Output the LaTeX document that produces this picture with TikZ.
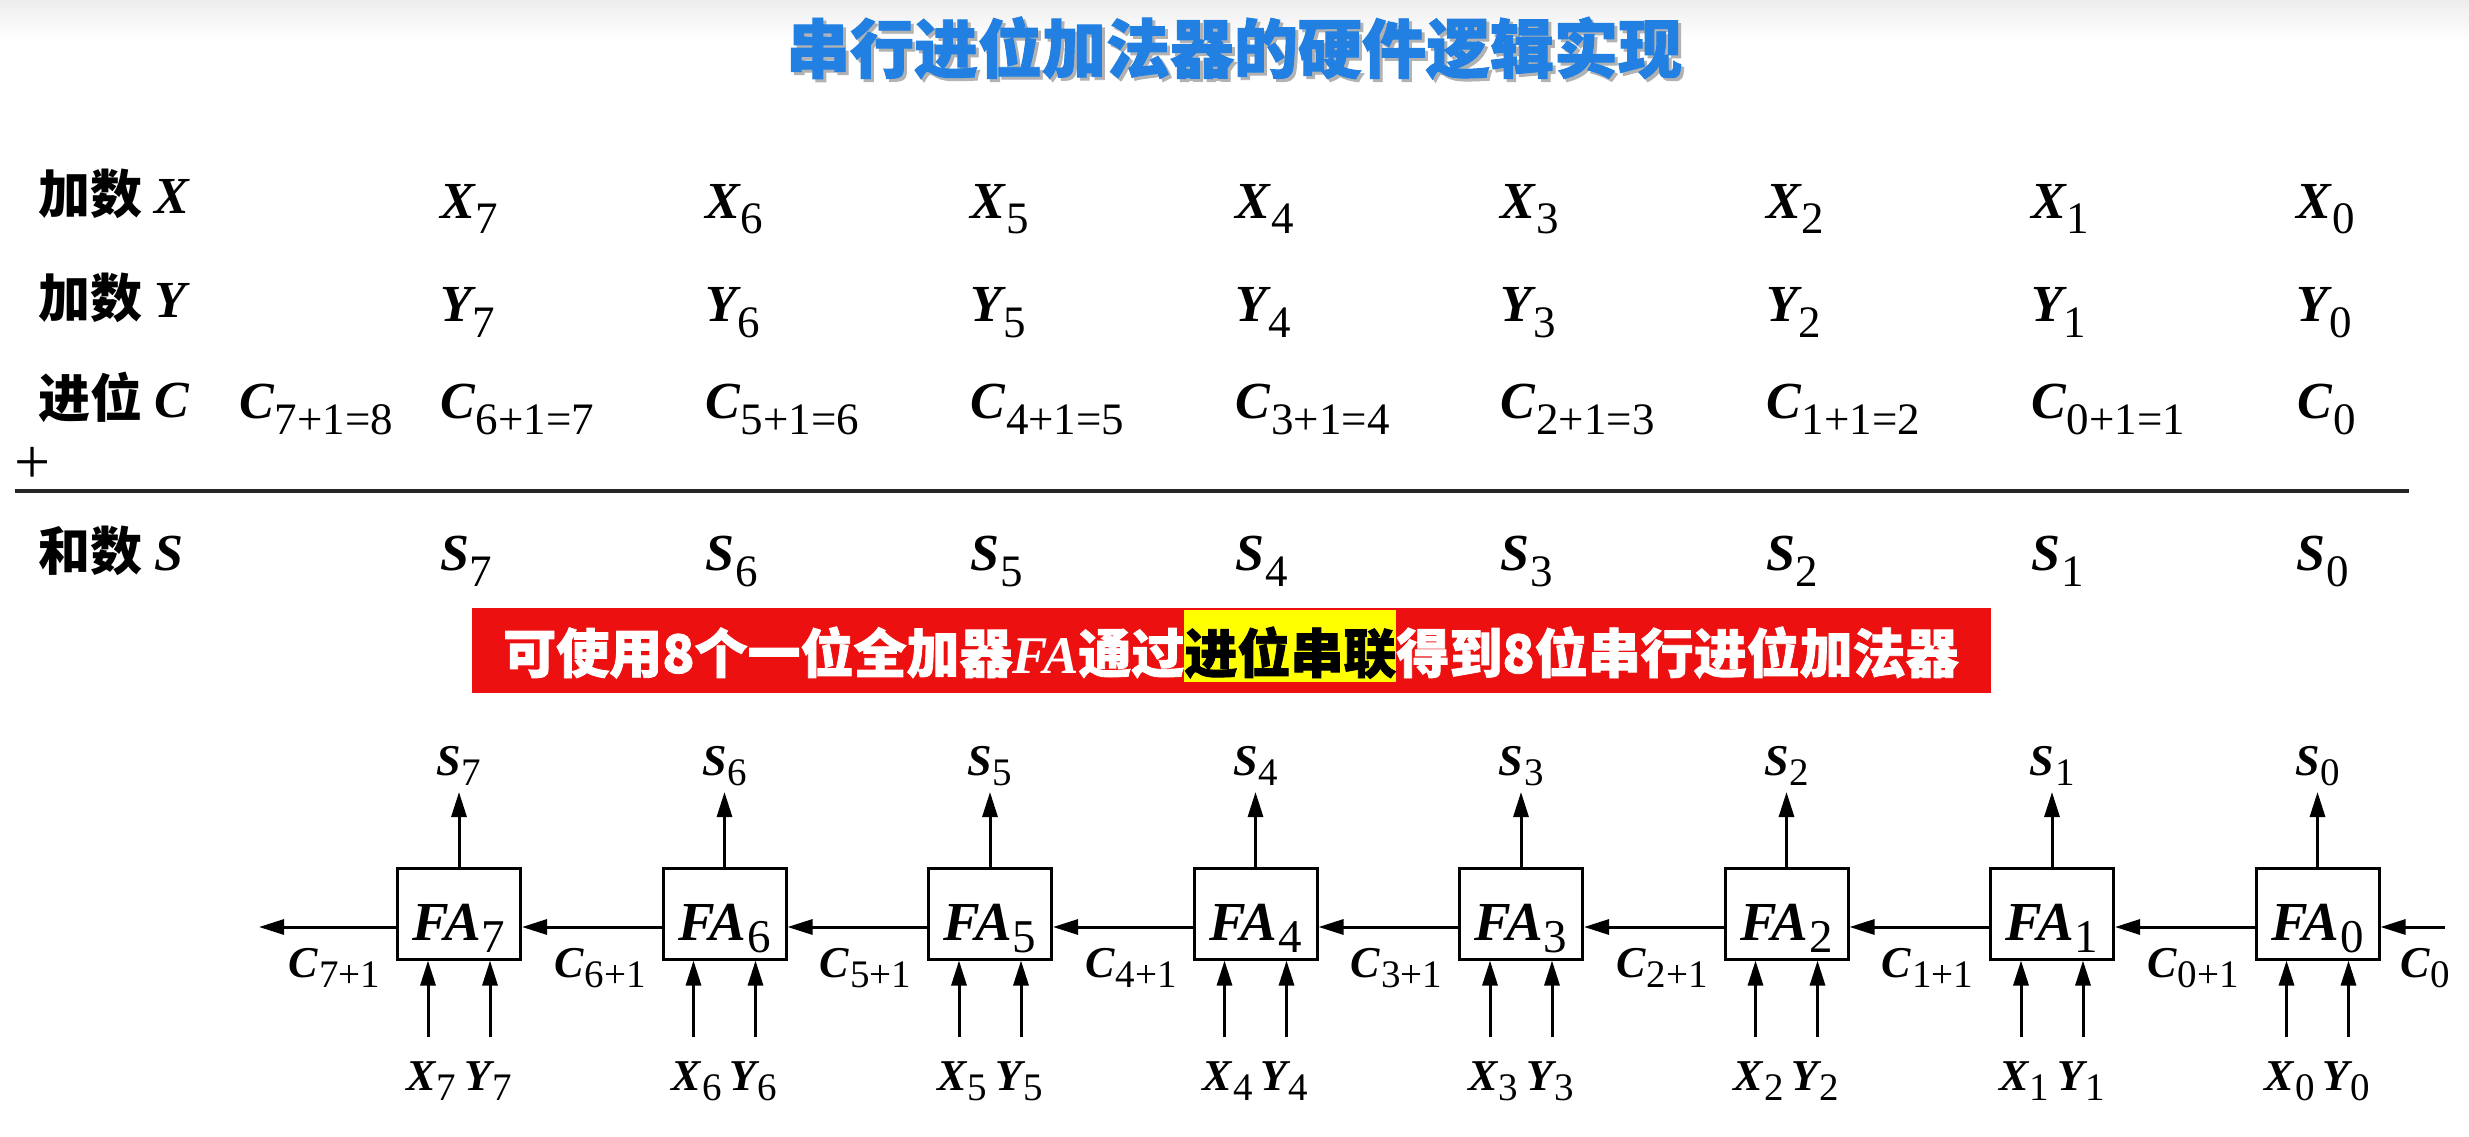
\documentclass[tikz,border=0pt]{standalone}
\usepackage{fontspec}
\setmainfont{Liberation Serif}
\newfontfamily\cjk{Noto Sans CJK SC}
\newfontfamily\cjkheavy{Noto Sans CJK SC}[FakeBold=1.5]
\usetikzlibrary{arrows.meta}
\definecolor{titleblue}{HTML}{2180E2}
\definecolor{bannerred}{HTML}{EC1010}
\definecolor{hlyellow}{HTML}{FFFF00}
\newcommand\Vt[2]{{\fontsize{52}{60}\selectfont\bfseries\itshape #1}\kern1pt\raisebox{-16pt}{\fontsize{45}{52}\selectfont #2}}
\newcommand\Vb[2]{{\fontsize{44}{52}\selectfont\bfseries\itshape #1}\kern1pt\raisebox{-10pt}{\fontsize{39}{46}\selectfont #2}}
\newcommand\Vf[2]{{\fontsize{55}{64}\selectfont\bfseries\itshape #1}\kern1pt\raisebox{-12pt}{\fontsize{47}{54}\selectfont #2}}
\newcommand\RL[2]{{\cjk\bfseries\fontsize{52}{60}\selectfont #1}\hspace{12pt}{\fontsize{52}{60}\selectfont\bfseries\itshape #2}}
\newcommand\TitleText{{\cjkheavy\bfseries\fontsize{64}{72}\selectfont 串行进位加法器的硬件逻辑实现}}
\tikzset{
  txt/.style={inner sep=0pt, outer sep=0pt},
  fabox/.style={draw, line width=3pt, minimum width=123pt, minimum height=91pt, inner sep=0pt, fill=white},
  arr/.style={line width=3pt, -{Triangle[length=25pt,width=15pt]}},
}
\begin{document}
\begin{tikzpicture}[x=1pt,y=-1pt]
\useasboundingbox (0,0) rectangle (2469,1137);
\fill[white] (0,0) rectangle (2469,1137);
\shade[top color=black!7, bottom color=white] (0,0) rectangle (2469,40);
% title
\node[txt, text=black!30] (titlesh) at (1237,51) {\TitleText};
\node[txt, text=titleblue] (title) at (1234,48) {\TitleText};
% row labels
\node[txt, anchor=base west] (lx) at (38,213) {\RL{加数}{X}};
\node[txt, anchor=base west] (ly) at (38,317) {\RL{加数}{Y}};
\node[txt, anchor=base west] (lc) at (38,417) {\RL{进位}{C}};
\node[txt, anchor=base west] (ls) at (38,570) {\RL{和数}{S}};
\node[txt] (plus) at (33,465) {\fontsize{64}{70}\selectfont +};
\coordinate (r1) at (15,491);
\coordinate (r2) at (2409,491);
\draw[line width=4pt, black!85] (r1) -- (r2);
% table values
\foreach \i [evaluate=\i as \cx using 440+(7-\i)*265.2] in {0,...,7}{
  \node[txt, anchor=base west] (xv\i) at (\cx,218) {\Vt{X}{\i}};
  \node[txt, anchor=base west] (yv\i) at (\cx,321) {\Vt{Y}{\i}};
  \node[txt, anchor=base west] (sv\i) at (\cx,570) {\Vt{S}{\i}};
}
\node[txt, anchor=base west] (cv8) at (239,418) {\Vt{C}{7+1=8}};
\foreach \i [evaluate=\i as \cx using 440+(7-\i)*265.2, evaluate=\i as \j using int(\i-1)] in {1,...,7}{
  \node[txt, anchor=base west] (cv\i) at (\cx,418) {\Vt{C}{\j+1=\i}};
}
\node[txt, anchor=base west] (cv0) at (2297.4,418) {\Vt{C}{0}};
% banner
\fill[bannerred] (472,608) rectangle (1991,693);
\node[txt, text=white, anchor=base] (banner) at (1231,673) {\cjkheavy\bfseries\fontsize{53}{62}\selectfont 可使用8个一位全加器{\rmfamily\bfseries\itshape FA}通过\setlength{\fboxsep}{0pt}\colorbox{hlyellow}{\rule[-9pt]{0pt}{72pt}\color{black}进位串联}得到8位串行进位加法器};
% full adders
\foreach \i [evaluate=\i as \xx using 459+(7-\i)*265.5] in {0,...,7}{
  \node[fabox] (fa\i) at (\xx,913.5) {};
  \node[txt, anchor=base] (fat\i) at ([yshift=-26.5pt]fa\i.center) {\Vf{FA}{\i}};
  \coordinate (st\i) at (\xx,792);
  \draw[arr] (fa\i.north) -- (st\i);
  \node[txt, anchor=base] (s\i) at (\xx,775) {\Vb{S}{\i}};
  \coordinate (xb\i) at ([xshift=-31pt]\xx,1037);
  \coordinate (yb\i) at ([xshift=31pt]\xx,1037);
  \draw[arr] (xb\i) -- (xb\i |- fa\i.south);
  \draw[arr] (yb\i) -- (yb\i |- fa\i.south);
  \node[txt, anchor=base] (xy\i) at (\xx,1090) {\Vb{X}{\i}\hspace{8pt}\Vb{Y}{\i}};
  \pgfmathtruncatemacro\k{\i+1}
  \node[txt, anchor=base east] (c\k) at ([xshift=-16pt,yshift=-63.5pt]fa\i.west) {\Vb{C}{\i+1}};
}
\foreach \i [evaluate=\i as \j using int(\i+1)] in {0,...,6}{
  \draw[arr] ([yshift=-13.5pt]fa\i.west) -- ([yshift=-13.5pt]fa\j.east);
}
\coordinate (cout) at (259,927);
\draw[arr] ([yshift=-13.5pt]fa7.west) -- (cout);
\coordinate (cin) at (2445,927);
\draw[arr] (cin) -- ([yshift=-13.5pt]fa0.east);
\node[txt, anchor=base west] (c0) at ([xshift=20pt,yshift=-63.5pt]fa0.east) {\Vb{C}{0}};
\end{tikzpicture}
\end{document}
